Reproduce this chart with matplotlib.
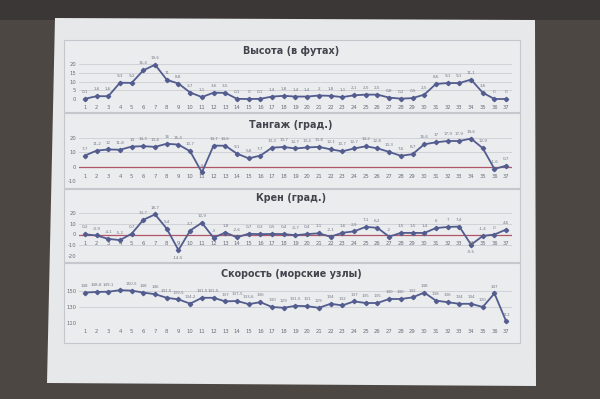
import matplotlib
matplotlib.use("Agg")
import matplotlib.pyplot as plt
from matplotlib.patches import Polygon, Rectangle

W, H = 600, 399

points = list(range(1, 38))
titles = ["Высота (в футах)", "Тангаж (град.)", "Крен (град.)", "Скорость (морские узлы)"]

altitude = [0.1, 1.6, 1.6, 9.3, 9.2, 16.4, 19.6, 11, 8.8, 3.7, 1.1, 3.6, 3.5, 0.1, 0, 0.1,
            1.4, 1.8, 1.4, 1.4, 2, 1.8, 1.1, 2.1, 2.5, 2.5, 0.8, 0.2, 0.5, 2.5, 8.6, 9.1,
            9.1, 11.1, 3.6, 0, 0]
pitch = [7.7, 11.2, 12, 11.8, 14, 14.3, 13.8, 16.0, 15.4, 10.7, -4, 14.7, 14.6, 9.1, 5.8,
         7.7, 13.3, 13.7, 12.7, 13.4, 13.8, 12.1, 10.7, 12.7, 14.2, 12.8, 10.3, 7.6, 8.7,
         15.6, 17, 17.9, 17.9, 19.6, 12.9, -1.6, 0.7]
roll = [0.2, -0.9, -4.1, -5.2, 0.7, 13.7, 18.7, 5.4, -14.5, 3.7, 10.9, -3, 1.8, -2.6, 0.7,
        0.3, 0.5, 0.4, -0.7, 0.4, 1.1, -2.1, 1.6, 2.9, 7.1, 6.2, -2, 1.5, 1.5, 1.4, 6.0,
        7.0, 7.4, -9.5, -1.4, 0, 4.6]
speed = [148, 148.8, 149.1, 151, 150.5, 148, 146, 141.5, 139.5, 134.2, 141.5, 141.5, 137,
         137.5, 133.6, 136, 130, 129, 131.5, 131, 129, 134, 132, 137, 135, 135, 140, 140,
         142, 148, 138, 136, 134, 134, 130, 147, 112]

series = [altitude, pitch, roll, speed]
ylims = [(0, 20), (-10, 20), (-20, 20), (110, 150)]
yticks = [[0, 5, 10, 15, 20], [-10, 0, 10, 20], [-20, -10, 0, 10, 20], [110, 130, 150]]
zero_line = [False, True, True, False]

# pixel layout: (plot top px, plot bottom px, box top, box bottom, title y)
layout = [
    (64, 99, 40, 112, 51),
    (138, 181, 113, 188, 125),
    (213, 256, 189, 262, 198),
    (291, 323, 263, 343, 274),
]
PX_L, PX_R = 79, 512

fig = plt.figure(figsize=(W / 100, H / 100), dpi=100)
fig.patch.set_facecolor("#4d4744")

def fx(x):
    return x / W

def fy(y):
    return 1 - y / H

# darker top band
fig.patches.append(Rectangle((0, fy(20)), 1, 1 - fy(20), transform=fig.transFigure,
                             facecolor="#3b3736", edgecolor="none", zorder=0))
# slide
slide = Polygon([(fx(55), fy(18)), (fx(535), fy(20)), (fx(536), fy(386)), (fx(47), fy(383))],
                closed=True, transform=fig.transFigure, facecolor="#e6e8ea",
                edgecolor="none", zorder=1)
fig.patches.append(slide)

line_color = "#535c8e"
label_color = "#767b88"
text_color = "#42454d"

def fmt(v):
    if float(v).is_integer():
        return str(int(v))
    return ("%g" % v).replace(".", ",")

below_labels = {2: [8, 33]}

for i, data in enumerate(series):
    ptop, pbot, btop, bbot, ty = layout[i]
    # chart box
    fig.patches.append(Rectangle((fx(64), fy(bbot)), fx(520) - fx(64), fy(btop) - fy(bbot),
                                 transform=fig.transFigure, facecolor="#eaecee",
                                 edgecolor="#c4c7cc", linewidth=0.8, zorder=2))
    fig.text(fx(291), fy(ty), titles[i], ha="center", va="center", fontsize=6.9,
             fontweight="bold", color=text_color, zorder=5)
    ax = fig.add_axes([fx(PX_L), fy(pbot), fx(PX_R) - fx(PX_L), fy(ptop) - fy(pbot)], zorder=4)
    ax.set_facecolor("none")
    ax.set_xlim(0.5, 37.5)
    ax.set_ylim(*ylims[i])
    ax.set_yticks(yticks[i])
    ax.set_yticklabels([str(t) for t in yticks[i]])
    for t in yticks[i]:
        ax.axhline(t, color="#cbced4", linewidth=0.6, zorder=1)
    if zero_line[i]:
        ax.axhline(0, color="#b0556a", linewidth=0.9, zorder=2)
    ax.plot(points, data, color=line_color, linewidth=1.3, marker="D", markersize=2.2,
            clip_on=False, zorder=3)
    for s in ax.spines.values():
        s.set_visible(False)
    ax.tick_params(axis="both", length=0, labelsize=3.8, labelcolor="#6a6f7a", pad=2)
    ax.set_xticks(points)
    ax.set_xticklabels([str(p) for p in points])
    if zero_line[i]:
        ax.set_xticklabels([])
        for p in points:
            ax.annotate(str(p), (p, 0), xytext=(0, -5), textcoords="offset points",
                        ha="center", va="top", fontsize=3.8, color="#6a6f7a")
    ax.tick_params(axis="x", pad=4)
    for j, (p, v) in enumerate(zip(points, data)):
        below = j in below_labels.get(i, [])
        ax.annotate(fmt(v), (p, v), xytext=(0, -4 if below else 3.5),
                    textcoords="offset points", ha="center",
                    va="top" if below else "bottom", fontsize=3.0, color=label_color)

fig.savefig("out.png", dpi=100, facecolor=fig.get_facecolor())
